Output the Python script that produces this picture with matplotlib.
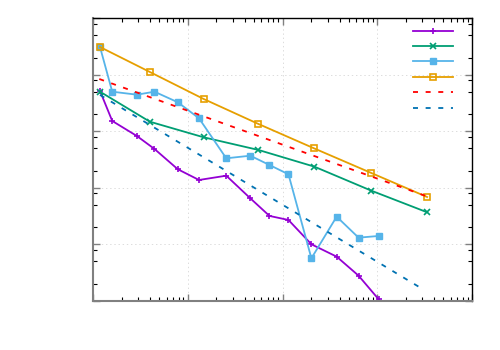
import matplotlib
matplotlib.use("Agg")
import matplotlib.pyplot as plt
from matplotlib.ticker import LogLocator, NullFormatter

plt.rcParams['lines.scale_dashes'] = False

# ---- data ----
x_coarse = [1.186, 3.98, 14.7, 55.8, 217, 865, 3357]
y_orange = [0.309, 0.1117, 0.0372, 0.0134, 0.00494, 0.00182, 0.000684]
y_green = [0.05, 0.01472, 0.0078, 0.00465, 0.002355, 0.000885, 0.000367]

x_fine = [1.186, 1.596, 2.904, 4.457, 7.85, 13.15, 25.5, 45.7, 72.9, 115.6,
          201.8, 373, 635, 1033]
y_lightblue = [0.309, 0.05, 0.04426, 0.05, 0.0325, 0.0169, 0.00331, 0.00368,
               0.00252, 0.001726, 5.62e-5, 3.07e-4, 1.303e-4, 1.396e-4]
y_purple = [0.0514, 0.01517, 0.00822, 0.00484, 0.00212, 0.001368, 0.00163,
            0.000649, 0.000316, 0.000268, 9.95e-5, 6.01e-5, 2.77e-5, 1.06e-5]

x_ref_red = [1.165, 3281]
y_ref_red = [0.0839, 7.1e-4]
x_ref_blue = [1.186, 3126]
y_ref_blue = [0.0438, 1.545e-5]

c_purple = '#9400D3'
c_green = '#009E73'
c_lblue = '#56B4E9'
c_orange = '#E69F00'
c_red = '#FF0000'
c_blue = '#0072B2'

fig = plt.figure(figsize=(5, 3.5), dpi=100)
ax = fig.add_axes([0.186, 0.141, 0.758, 0.807])

lw = 1.3
l1, = ax.plot(x_fine, y_purple, color=c_purple, lw=lw, marker='+', ms=5, mew=1.2)
l2, = ax.plot(x_coarse, y_green, color=c_green, lw=lw, marker='x', ms=4.5, mew=1.2)
l3, = ax.plot(x_fine, y_lightblue, color=c_lblue, lw=lw, marker='s', ms=4.5, mew=1)
l4, = ax.plot(x_coarse, y_orange, color=c_orange, lw=lw, marker='s', ms=5,
              mfc='none', mew=1.2)
l5, = ax.plot(x_ref_red, y_ref_red, color=c_red, lw=lw, dashes=(3.6, 5.5))
l6, = ax.plot(x_ref_blue, y_ref_blue, color=c_blue, lw=lw, dashes=(3.6, 5.5))

ax.set_xscale('log')
ax.set_yscale('log')
ax.set_xlim(1, 1e4)
ax.set_ylim(1e-5, 1)

ax.xaxis.set_major_locator(LogLocator(base=10, numticks=10))
ax.xaxis.set_minor_locator(LogLocator(base=10, subs=(2, 3, 4, 5, 6, 7, 8, 9), numticks=20))
ax.yaxis.set_major_locator(LogLocator(base=10, numticks=10))
ax.yaxis.set_minor_locator(LogLocator(base=10, subs=(2, 5, 8), numticks=20))
for axis in (ax.xaxis, ax.yaxis):
    axis.set_major_formatter(NullFormatter())
    axis.set_minor_formatter(NullFormatter())

ax.tick_params(which='both', direction='in', top=True, right=True,
               labelbottom=False, labelleft=False)
ax.tick_params(which='major', length=5, width=1, color='#808080')
ax.tick_params(which='minor', length=3, width=0.8, color='black')

ax.grid(True, which='major', color='#dcdcdc', linestyle=(0, (1, 2)), lw=0.7)

for s in ('top', 'right'):
    ax.spines[s].set_color('black')
    ax.spines[s].set_linewidth(1.0)
for s in ('left', 'bottom'):
    ax.spines[s].set_color('#808080')
    ax.spines[s].set_linewidth(1.5)

handles = [l1, l2, l3, l4, l5, l6]
ax.legend(handles, [' '] * 6, loc='upper left', bbox_to_anchor=(0.844, 0.971),
          frameon=False, fontsize=8, handlelength=3.6, handletextpad=0.0,
          labelspacing=0.49, borderpad=0, borderaxespad=0)

fig.savefig('out.png', dpi=100)
